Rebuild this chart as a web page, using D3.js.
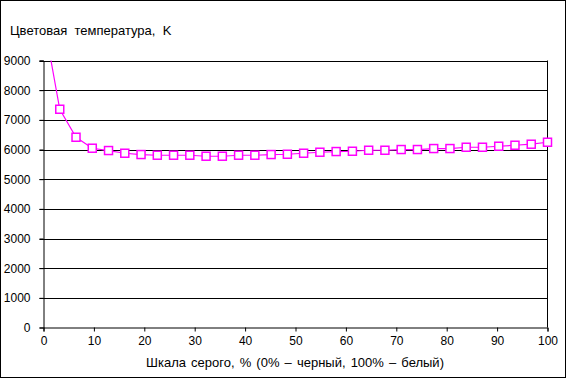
<!DOCTYPE html>
<html><head><meta charset="utf-8">
<script src="https://cdn.jsdelivr.net/npm/d3@7"></script>
<style>body{margin:0;background:#fff}svg{display:block}text{font-family:"Liberation Sans",Arial,sans-serif;fill:#000}</style>
</head><body>
<svg id="c" width="567" height="379"></svg>
<script>
const grayPct = d3.range(32).map(i => i * 100 / 31);
const colorTemp = [10400, 7357, 6413, 6043, 5965, 5874, 5830, 5807, 5807, 5807, 5773, 5773, 5807, 5807, 5830, 5840,
                   5874, 5908, 5931, 5941, 5975, 5975, 5999, 5999, 6032, 6032, 6076, 6076, 6110, 6144, 6178, 6245];
const yTicks = [0,1000,2000,3000,4000,5000,6000,7000,8000,9000];
const xTicks = [0,10,20,30,40,50,60,70,80,90,100];
const yTitle = "Цветовая  температура,  K";
const xTitle = "Шкала серого, % (0% – черный, 100% – белый)";

const svg = d3.select("#c");
const L = 43.5, R = 547.5, T = 60.5, B = 327.5;
const x = d3.scaleLinear().domain([0,100]).range([L,R]);
const y = d3.scaleLinear().domain([0,9000]).range([B,T]);

svg.append("rect").attr("x",0.5).attr("y",0.5).attr("width",565).attr("height",377)
  .attr("fill","#fff").attr("stroke","#000");

svg.append("g").selectAll("line").data(yTicks.slice(1)).join("line")
  .attr("x1",L-4).attr("x2",R).attr("y1",d=>Math.round(y(d))+0.5).attr("y2",d=>Math.round(y(d))+0.5)
  .attr("stroke","#000");
svg.append("line").attr("x1",R).attr("x2",R).attr("y1",T).attr("y2",B).attr("stroke","#000");

const yAxis = svg.append("g").attr("transform",`translate(${L},0)`)
  .call(d3.axisLeft(y).tickValues(yTicks).tickSize(4).tickPadding(9).tickFormat(d3.format("d")));
const xAxis = svg.append("g").attr("transform",`translate(0,${B})`)
  .call(d3.axisBottom(x).tickValues(xTicks).tickSize(4).tickPadding(5).tickFormat(d3.format("d")));
[yAxis,xAxis].forEach(a=>{a.select(".domain").attr("stroke","#000");a.selectAll(".tick line").attr("stroke","#000");
  a.selectAll("text").attr("font-size","12px").attr("font-family","Liberation Sans, Arial, sans-serif").attr("fill","#000");});

svg.append("text").attr("x",10).attr("y",35).attr("font-size","13px").text(yTitle).style("white-space","pre");
svg.append("text").attr("x",295).attr("y",367).attr("text-anchor","middle").attr("font-size","13px")
  .attr("word-spacing","1.5px").text(xTitle);

const data = grayPct.map((g,i)=>({g, v: colorTemp[i]}));
svg.append("clipPath").attr("id","clip").append("rect").attr("x",L).attr("y",T).attr("width",R-L+6).attr("height",B-T);
const g = svg.append("g").attr("clip-path","url(#clip)");
g.append("path").datum(data).attr("fill","none").attr("stroke","#ff00ff").attr("stroke-width",1.2)
  .attr("d", d3.line().x(d=>x(d.g)).y(d=>y(d.v)));
const s = 8;
svg.append("g").selectAll("rect").data(data.filter(d=>d.v<=9000)).join("rect")
  .attr("x",d=>x(d.g)-s/2).attr("y",d=>y(d.v)-s/2).attr("width",s).attr("height",s)
  .attr("fill","#fff").attr("stroke","#ff00ff").attr("stroke-width",1.5);
</script>
</body></html>
